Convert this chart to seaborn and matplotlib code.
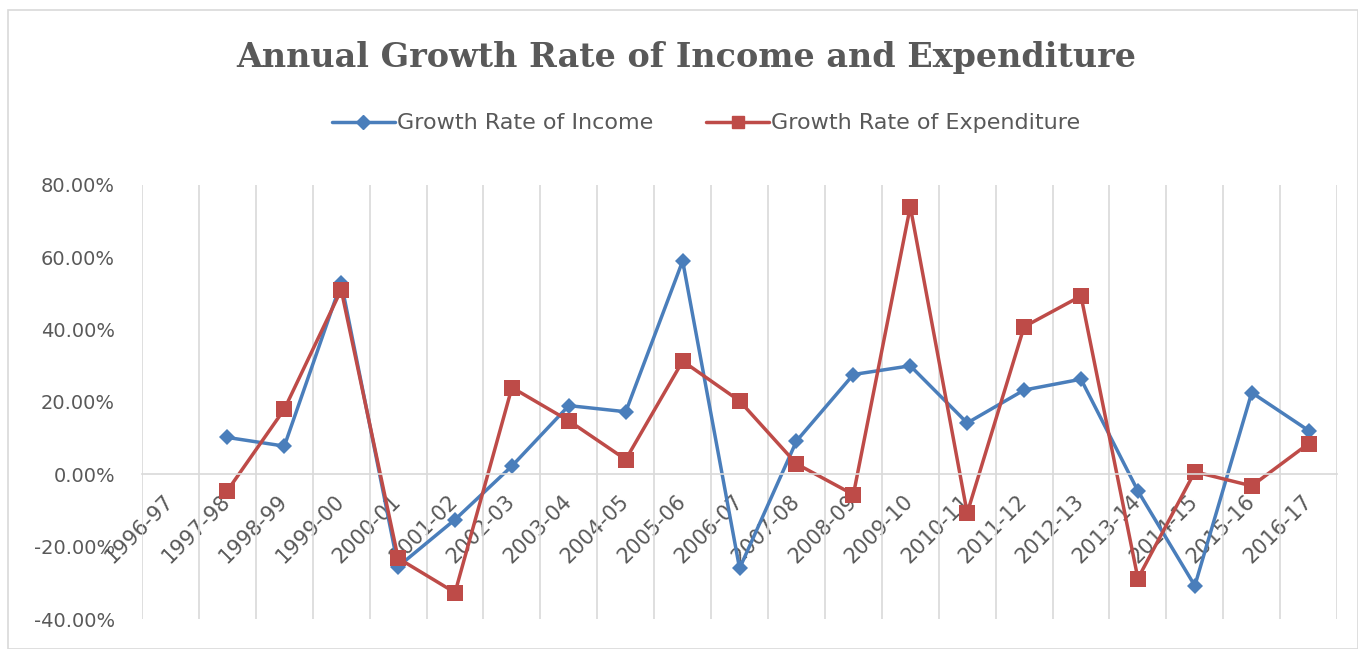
import numpy as np
import pandas as pd
import matplotlib
matplotlib.use("Agg")
import matplotlib.pyplot as plt
import seaborn as sns
from matplotlib.patches import Rectangle
from matplotlib.lines import Line2D
from matplotlib.ticker import FuncFormatter, FixedLocator

years = ["1996-97", "1997-98", "1998-99", "1999-00", "2000-01", "2001-02", "2002-03",
         "2003-04", "2004-05", "2005-06", "2006-07", "2007-08", "2008-09", "2009-10",
         "2010-11", "2011-12", "2012-13", "2013-14", "2014-15", "2015-16", "2016-17"]
income = [np.nan, 10.2, 7.8, 53.0, -25.5, -12.5, 2.3, 19.0, 17.3, 59.0, -26.0, 9.2,
          27.6, 30.0, 14.2, 23.3, 26.3, -4.6, -30.8, 22.6, 12.1]
expenditure = [np.nan, -4.5, 18.0, 51.0, -23.2, -32.7, 24.0, 14.8, 4.1, 31.3, 20.3, 2.9,
               -5.6, 74.0, -10.7, 40.8, 49.3, -28.8, 0.7, -3.2, 8.5]
series_names = ["Growth Rate of Income", "Growth Rate of Expenditure"]

sns.set_theme(style="white")
plt.rcParams["font.family"] = ["DejaVu Sans"]

x = np.arange(len(years))
df = pd.DataFrame({
    "pos": np.concatenate([x, x]),
    "value": np.concatenate([income, expenditure]),
    "series": [series_names[0]] * len(years) + [series_names[1]] * len(years),
})

fig = plt.figure(figsize=(13.58, 6.49), dpi=100)
ax = fig.add_axes([0.1046, 0.0462, 0.880, 0.6688])

blue = "#4A7EBB"
red = "#BE4B48"
sns.lineplot(data=df, x="pos", y="value", hue="series", style="series",
             palette={series_names[0]: blue, series_names[1]: red},
             markers={series_names[0]: "D", series_names[1]: "s"},
             dashes=False, linewidth=2.5, markersize=10, markeredgewidth=0,
             ax=ax, legend=False, sort=False)
for line in ax.get_lines():
    if line.get_marker() == "s":
        line.set_markersize(11.5)
    elif line.get_marker() == "D":
        line.set_markersize(8.5)

ax.set_xlim(-0.5, len(years) - 0.5)
ax.set_ylim(-40, 80)
ax.set_xlabel("")
ax.set_ylabel("")

for s in ["top", "right", "left"]:
    ax.spines[s].set_visible(False)
ax.spines["bottom"].set_position(("data", 0))
ax.spines["bottom"].set_color("#D9D9D9")
ax.spines["bottom"].set_linewidth(1.2)
ax.set_facecolor("none")

# vertical gridlines at category boundaries
ax.xaxis.set_minor_locator(FixedLocator(np.arange(-0.5, len(years), 1.0)))
ax.grid(False)
ax.grid(True, which="minor", axis="x", color="#D9D9D9", linewidth=1.2)
ax.tick_params(axis="x", which="minor", length=0)

ax.set_xticks(x)
ax.set_xticklabels(years, rotation=45, ha="right", va="center",
                   rotation_mode="anchor", fontsize=15, color="#595959")
ax.tick_params(axis="x", which="major", length=0, pad=17)

ax.set_yticks([-40, -20, 0, 20, 40, 60, 80])
ax.yaxis.set_major_formatter(FuncFormatter(lambda v, p: f"{v:.2f}%"))
ax.tick_params(axis="y", length=0, pad=19.5, labelsize=14, labelcolor="#595959")

# chart border
fig.patches.append(Rectangle((8 / 1358, 0), 1 - 8 / 1358, 1 - 10 / 649,
                             transform=fig.transFigure, fill=False,
                             edgecolor="#D9D9D9", linewidth=1.2))

fig.text(0.505, 0.912, "Annual Growth Rate of Income and Expenditure",
         ha="center", va="center", fontsize=24, fontweight="bold",
         family=["DejaVu Serif"], color="#595959")

handles = [Line2D([0], [0], color=blue, marker="D", markersize=7, lw=2.5),
           Line2D([0], [0], color=red, marker="s", markersize=9, lw=2.5)]
fig.legend(handles, series_names, loc="center", bbox_to_anchor=(0.52, 0.81),
           ncol=2, frameon=False, fontsize=16, handlelength=2.8,
           columnspacing=2.4, labelcolor="#595959", handletextpad=0.1)

fig.savefig("out.png", dpi=100)
